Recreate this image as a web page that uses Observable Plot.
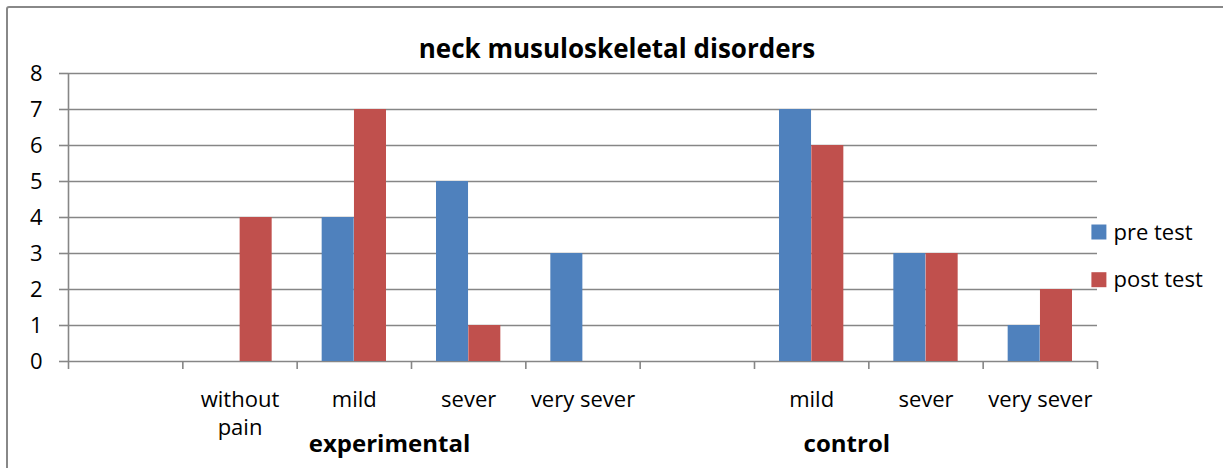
<!DOCTYPE html>
<html>
<head>
<meta charset="utf-8">
<script src="https://cdn.jsdelivr.net/npm/d3@7"></script>
<script src="https://cdn.jsdelivr.net/npm/@observablehq/plot@0.6"></script>
<style>
  html, body { margin: 0; padding: 0; background: #fff; }
  #wrap { position: relative; width: 1223px; height: 468px; overflow: hidden; }
  #border { position: absolute; left: 6px; top: 6px; width: 1300px; height: 600px;
            border: 2px solid #888; border-radius: 3px; pointer-events: none; box-sizing: border-box; }
</style>
</head>
<body>
<div id="wrap"><div id="chart"></div><div id="border"></div></div>
<script>
const title = "neck musuloskeletal disorders";
const slots = ["", "without\npain", "mild", "sever", "very sever", "", "mild", "sever", "very sever"];
const preTest = [null, 0, 4, 5, 3, null, 7, 3, 1];
const postTest = [null, 4, 7, 1, 0, null, 6, 3, 2];
const series = ["pre test", "post test"];
const colors = ["#4F81BD", "#C0504D"];
const groups = ["experimental", "control"];
const groupStart = [1, 5];
const groupEnd = [5, 9];
const yTicks = [0, 1, 2, 3, 4, 5, 6, 7, 8];

const grid = "#868686";
const rowsFor = (vals) => slots.map((s, i) => ({i, v: vals[i]})).filter(d => d.v);
const slotRows = slots.map((s, i) => ({i, label: s}));
const groupRows = groups.map((g, k) => ({label: g, c: (groupStart[k] + groupEnd[k]) / 2}));
const legendRows = series.map((s, k) => ({s, k}));

const chart = Plot.plot({
  width: 1223,
  height: 468,
  marginLeft: 68,
  marginRight: 126,
  marginTop: 73,
  marginBottom: 107,
  x: {type: "linear", domain: [0, slots.length]},
  y: {domain: [0, 8]},
  style: {fontFamily: "'Open Sans', sans-serif", fontSize: "22px", color: "#000", background: "#fff", overflow: "visible"},
  marks: [
    Plot.ruleY(yTicks, {stroke: grid, strokeWidth: 1.6}),
    Plot.axisY({ticks: yTicks, tickSize: 9, tickPadding: 17, stroke: grid, strokeWidth: 1.6, fill: "#000", fontSize: 22, label: null}),
    Plot.ruleX([0], {stroke: grid, strokeWidth: 1.6}),
    Plot.axisX({ticks: d3.range(0, slots.length + 1), tickFormat: () => "", tickSize: 8, stroke: grid, strokeWidth: 1.6, label: null}),
    Plot.rectY(rowsFor(preTest), {x1: "i", x2: d => d.i + 1, y: "v", fill: colors[0], insetLeft: 25, insetRight: 57.3}),
    Plot.rectY(rowsFor(postTest), {x1: "i", x2: d => d.i + 1, y: "v", fill: colors[1], insetLeft: 57.3, insetRight: 25}),
    Plot.text(slotRows, {x: d => d.i + 0.5, y: () => 0, text: "label", lineAnchor: "top", dy: 26, lineHeight: 1.27, fontSize: 22, fill: "#000"}),
    Plot.text(groupRows, {x: "c", y: () => 0, text: "label", lineAnchor: "bottom", dy: 90, dx: -22, fontSize: 24, fontWeight: "bold", fill: "#000"}),
    Plot.text([title], {frameAnchor: "top", lineAnchor: "bottom", dy: -16, dx: 34, fontSize: 26, fontWeight: "bold", fill: "#000"}),
    ...legendRows.map(d => Plot.dot([d], {frameAnchor: "right", symbol: "square", r: 8.46, fill: colors[d.k], dx: 1.4, dy: 14.5 + d.k * 47.7})),
    ...legendRows.map(d => Plot.text([d], {frameAnchor: "right", text: "s", textAnchor: "start", lineAnchor: "bottom", dx: 16, dy: 22 + d.k * 47.7, fontSize: 22, fill: "#000"}))
  ]
});
document.getElementById("chart").appendChild(chart);
</script>
</body>
</html>
